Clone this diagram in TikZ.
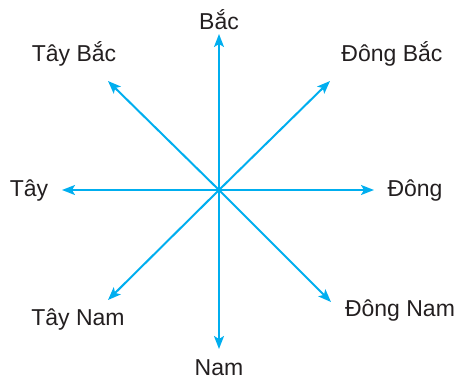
\documentclass[tikz,border=0pt]{standalone}
\usepackage{fontspec}
\setmainfont{Liberation Sans}
\usetikzlibrary{arrows.meta}
\definecolor{arrowblue}{RGB}{0,174,239}
\definecolor{txt}{RGB}{35,31,32}
\begin{document}
\begin{tikzpicture}[x=1pt,y=-1pt,
  dirarrow/.style={draw=arrowblue, line width=2pt, -{Stealth[length=13pt,width=10pt,inset=3pt]}, color=arrowblue},
  lbl/.style={inner sep=0pt, text=txt, font=\fontsize{23}{27}\selectfont}]
\useasboundingbox (0,0) rectangle (467,381);
\coordinate (c) at (219,190);
\coordinate (n) at (219,34);
\coordinate (s) at (219,349);
\coordinate (w) at (62,190);
\coordinate (e) at (374,190);
\coordinate (nw) at (108,81);
\coordinate (ne) at (330,81);
\coordinate (sw) at (108,300);
\coordinate (se) at (331,302);
\foreach \t in {n,s,w,e,nw,ne,sw,se}{\draw[dirarrow] (c) -- (\t);}
\node[lbl] (bac) at (219,20) {Bắc};
\node[lbl] (taybac) at (74,54) {Tây Bắc};
\node[lbl] (dongbac) at (392,54) {Đông Bắc};
\node[lbl] (tay) at (29,191) {Tây};
\node[lbl] (dong) at (415,191) {Đông};
\node[lbl] (taynam) at (78,320) {Tây Nam};
\node[lbl] (dongnam) at (400,311) {Đông Nam};
\node[lbl] (nam) at (219,368) {Nam};
\end{tikzpicture}
\end{document}
